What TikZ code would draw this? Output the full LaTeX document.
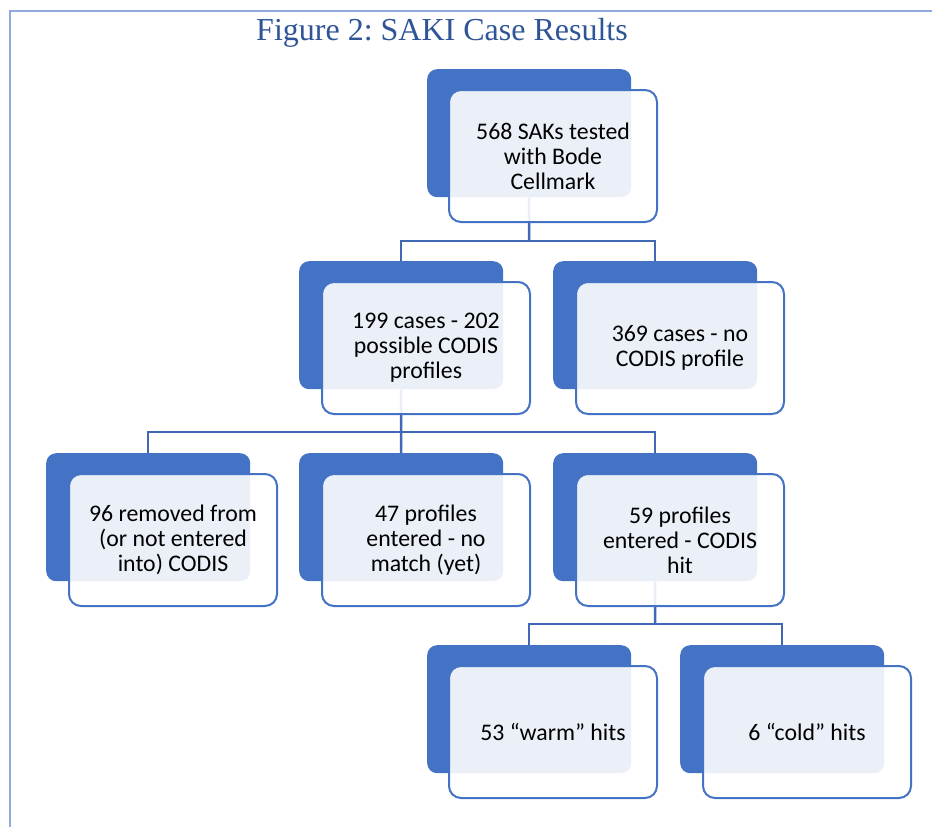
\documentclass[tikz,border=0pt]{standalone}
\usepackage{fontspec}
\setmainfont{Liberation Serif}
\newfontfamily\calib{Carlito}
\usetikzlibrary{backgrounds}
\definecolor{accent}{HTML}{4472C4}
\definecolor{framecol}{HTML}{8FAADC}
\definecolor{titlecol}{HTML}{2F5597}
\definecolor{linecol}{HTML}{4068B4}
\tikzset{
  backbox/.style={anchor=north west, fill=accent, rounded corners=10pt, minimum width=204pt, minimum height=128pt, inner sep=0pt},
  frontbox/.style={anchor=north west, fill=white, fill opacity=0.89, text opacity=1, draw=accent, draw opacity=1, line width=2pt, rounded corners=12pt, minimum width=208pt, minimum height=132pt, inner sep=0pt, align=center, font=\calib\fontsize{23.8}{25}\selectfont, text=black},
  conn/.style={draw=linecol, line width=2.5pt},
  titlestyle/.style={anchor=base, text=titlecol, font=\fontsize{32}{36}\selectfont, inner sep=0pt}
}
\begin{document}
\frenchspacing
\begin{tikzpicture}[x=1pt, y=-1pt]
\useasboundingbox (0,0) rectangle (932,827);
% frame
\draw[framecol, line width=2pt] (10,827) -- (10,11) -- (932,11);
\node[titlestyle] (title) at (442,40.7) {Figure 2: SAKI Case Results};
% junction coordinates
\coordinate (j1) at (529,241);
\coordinate (j2) at (401,432);
\coordinate (j3) at (655,624);
% back boxes
\node[backbox] (b1) at (427,69) {};
\node[backbox] (b21) at (299,261) {};
\node[backbox] (b22) at (553,261) {};
\node[backbox] (b31) at (46,453) {};
\node[backbox] (b32) at (299,453) {};
\node[backbox] (b33) at (553,453) {};
\node[backbox] (b41) at (427,645) {};
\node[backbox] (b42) at (680,645) {};
% connectors behind the boxes
\begin{scope}[on background layer]
\draw[conn] (b1.south) -- (j1);
\draw[conn] (b21.north) |- (j1) -| (b22.north);
\draw[conn] (b21.south) -- (j2);
\draw[conn] (b31.north) |- (j2) -| (b33.north);
\draw[conn] (b32.north) -- (j2);
\draw[conn] (b33.south) -- (j3);
\draw[conn] (b41.north) |- (j3) -| (b42.north);
\end{scope}
% front boxes
\node[frontbox] (f1) at (448,89) {568 SAKs tested\\with Bode\\Cellmark};
\node[frontbox] (f21) at (321,281) {199 cases - 202\\possible CODIS\\profiles};
\node[frontbox] (f22) at (575,281) {369 cases - no\\CODIS profile};
\node[frontbox] (f31) at (68,473) {96 removed from\\(or not entered\\into) CODIS};
\node[frontbox] (f32) at (321,473) {47 profiles\\entered - no\\match (yet)};
\node[frontbox] (f33) at (575,473) {59 profiles\\entered - CODIS\\hit};
\node[frontbox] (f41) at (448,665) {53 “warm” hits};
\node[frontbox] (f42) at (702,665) {6 “cold” hits};
\end{tikzpicture}
\end{document}
